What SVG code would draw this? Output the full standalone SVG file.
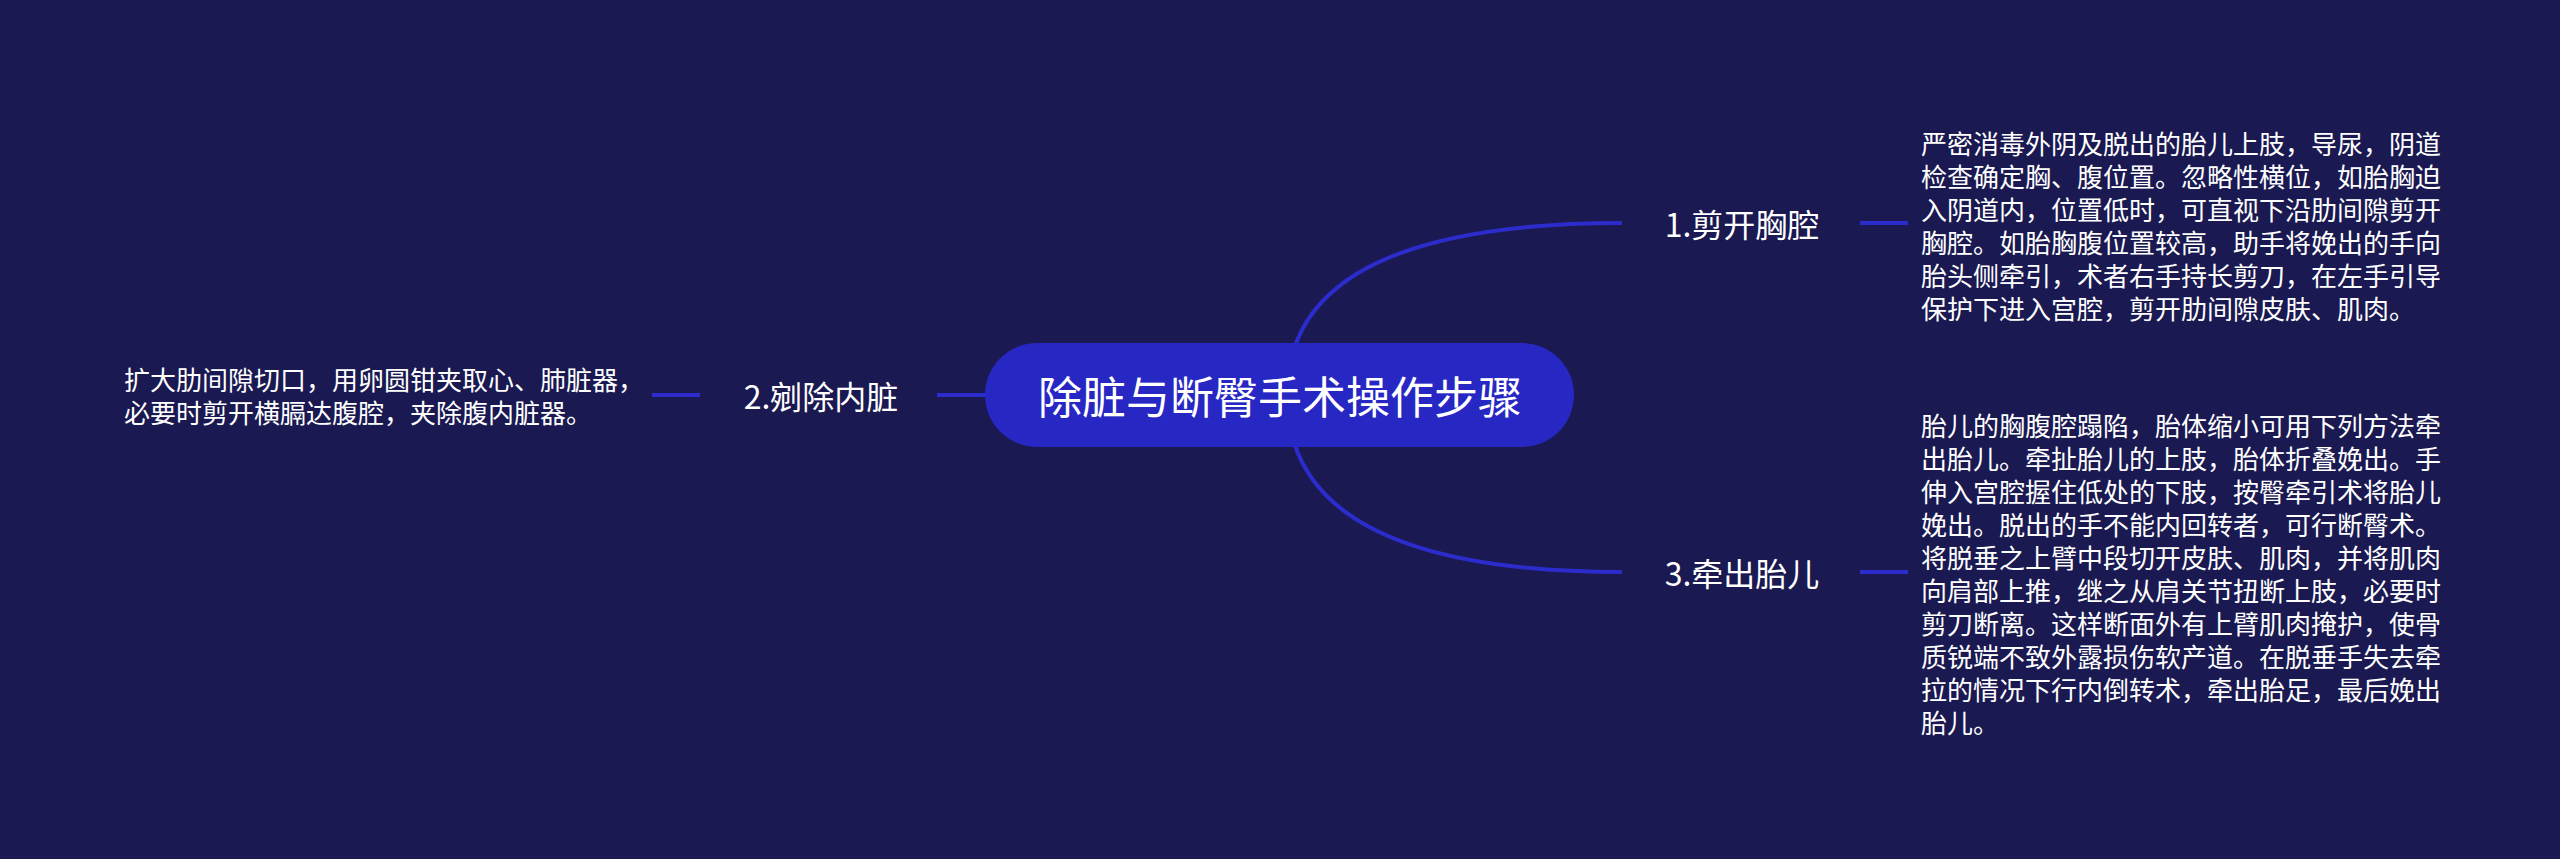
<svg xmlns="http://www.w3.org/2000/svg" width="2560" height="859" viewBox="0 0 2560 859">
  <style>
    text { font-family: "Noto Sans CJK SC", "Microsoft YaHei", sans-serif; fill: #ffffff; dominant-baseline: central; }
    .root-text { font-size: 44px; }
    .branch-text { font-size: 32px; }
    .desc-text { font-size: 26px; }
    .conn { fill: none; stroke: #2c2ccc; stroke-width: 4; stroke-linecap: butt; }
  </style>
  <rect x="0" y="0" width="2560" height="859" fill="#1a1951"/>
  <g id="connectors">
    <path class="conn" d="M1287,395 Q1287,223 1622,223"/>
    <path class="conn" d="M1287,395 Q1287,572 1622,572"/>
    <line class="conn" x1="937" y1="395" x2="990" y2="395"/>
    <line class="conn" x1="1860" y1="223" x2="1908" y2="223"/>
    <line class="conn" x1="1860" y1="572" x2="1908" y2="572"/>
    <line class="conn" x1="652" y1="395" x2="700" y2="395"/>
  </g>
  <g id="root">
    <rect x="985" y="343" width="589" height="104" rx="52" ry="52" fill="#2727c4"/>
    <text class="root-text" x="1280" y="395" text-anchor="middle">除脏与断臀手术操作步骤</text>
  </g>
  <g id="branch1">
    <text class="branch-text" x="1742" y="223" text-anchor="middle">1.剪开胸腔</text>
  </g>
  <g id="desc1">
    <text class="desc-text" x="1921">
      <tspan x="1921" y="142">严密消毒外阴及脱出的胎儿上肢，导尿，阴道</tspan>
      <tspan x="1921" y="175">检查确定胸、腹位置。忽略性横位，如胎胸迫</tspan>
      <tspan x="1921" y="208">入阴道内，位置低时，可直视下沿肋间隙剪开</tspan>
      <tspan x="1921" y="241">胸腔。如胎胸腹位置较高，助手将娩出的手向</tspan>
      <tspan x="1921" y="274">胎头侧牵引，术者右手持长剪刀，在左手引导</tspan>
      <tspan x="1921" y="307">保护下进入宫腔，剪开肋间隙皮肤、肌肉。</tspan>
    </text>
  </g>
  <g id="branch2">
    <text class="branch-text" x="821" y="395" text-anchor="middle">2.剜除内脏</text>
  </g>
  <g id="desc2">
    <text class="desc-text" x="124">
      <tspan x="124" y="378">扩大肋间隙切口，用卵圆钳夹取心、肺脏器，</tspan>
      <tspan x="124" y="411">必要时剪开横膈达腹腔，夹除腹内脏器。</tspan>
    </text>
  </g>
  <g id="branch3">
    <text class="branch-text" x="1742" y="572" text-anchor="middle">3.牵出胎儿</text>
  </g>
  <g id="desc3">
    <text class="desc-text" x="1921">
      <tspan x="1921" y="424">胎儿的胸腹腔蹋陷，胎体缩小可用下列方法牵</tspan>
      <tspan x="1921" y="457">出胎儿。牵扯胎儿的上肢，胎体折叠娩出。手</tspan>
      <tspan x="1921" y="490">伸入宫腔握住低处的下肢，按臀牵引术将胎儿</tspan>
      <tspan x="1921" y="523">娩出。脱出的手不能内回转者，可行断臀术。</tspan>
      <tspan x="1921" y="556">将脱垂之上臂中段切开皮肤、肌肉，并将肌肉</tspan>
      <tspan x="1921" y="589">向肩部上推，继之从肩关节扭断上肢，必要时</tspan>
      <tspan x="1921" y="622">剪刀断离。这样断面外有上臂肌肉掩护，使骨</tspan>
      <tspan x="1921" y="655">质锐端不致外露损伤软产道。在脱垂手失去牵</tspan>
      <tspan x="1921" y="688">拉的情况下行内倒转术，牵出胎足，最后娩出</tspan>
      <tspan x="1921" y="721">胎儿。</tspan>
    </text>
  </g>
</svg>
